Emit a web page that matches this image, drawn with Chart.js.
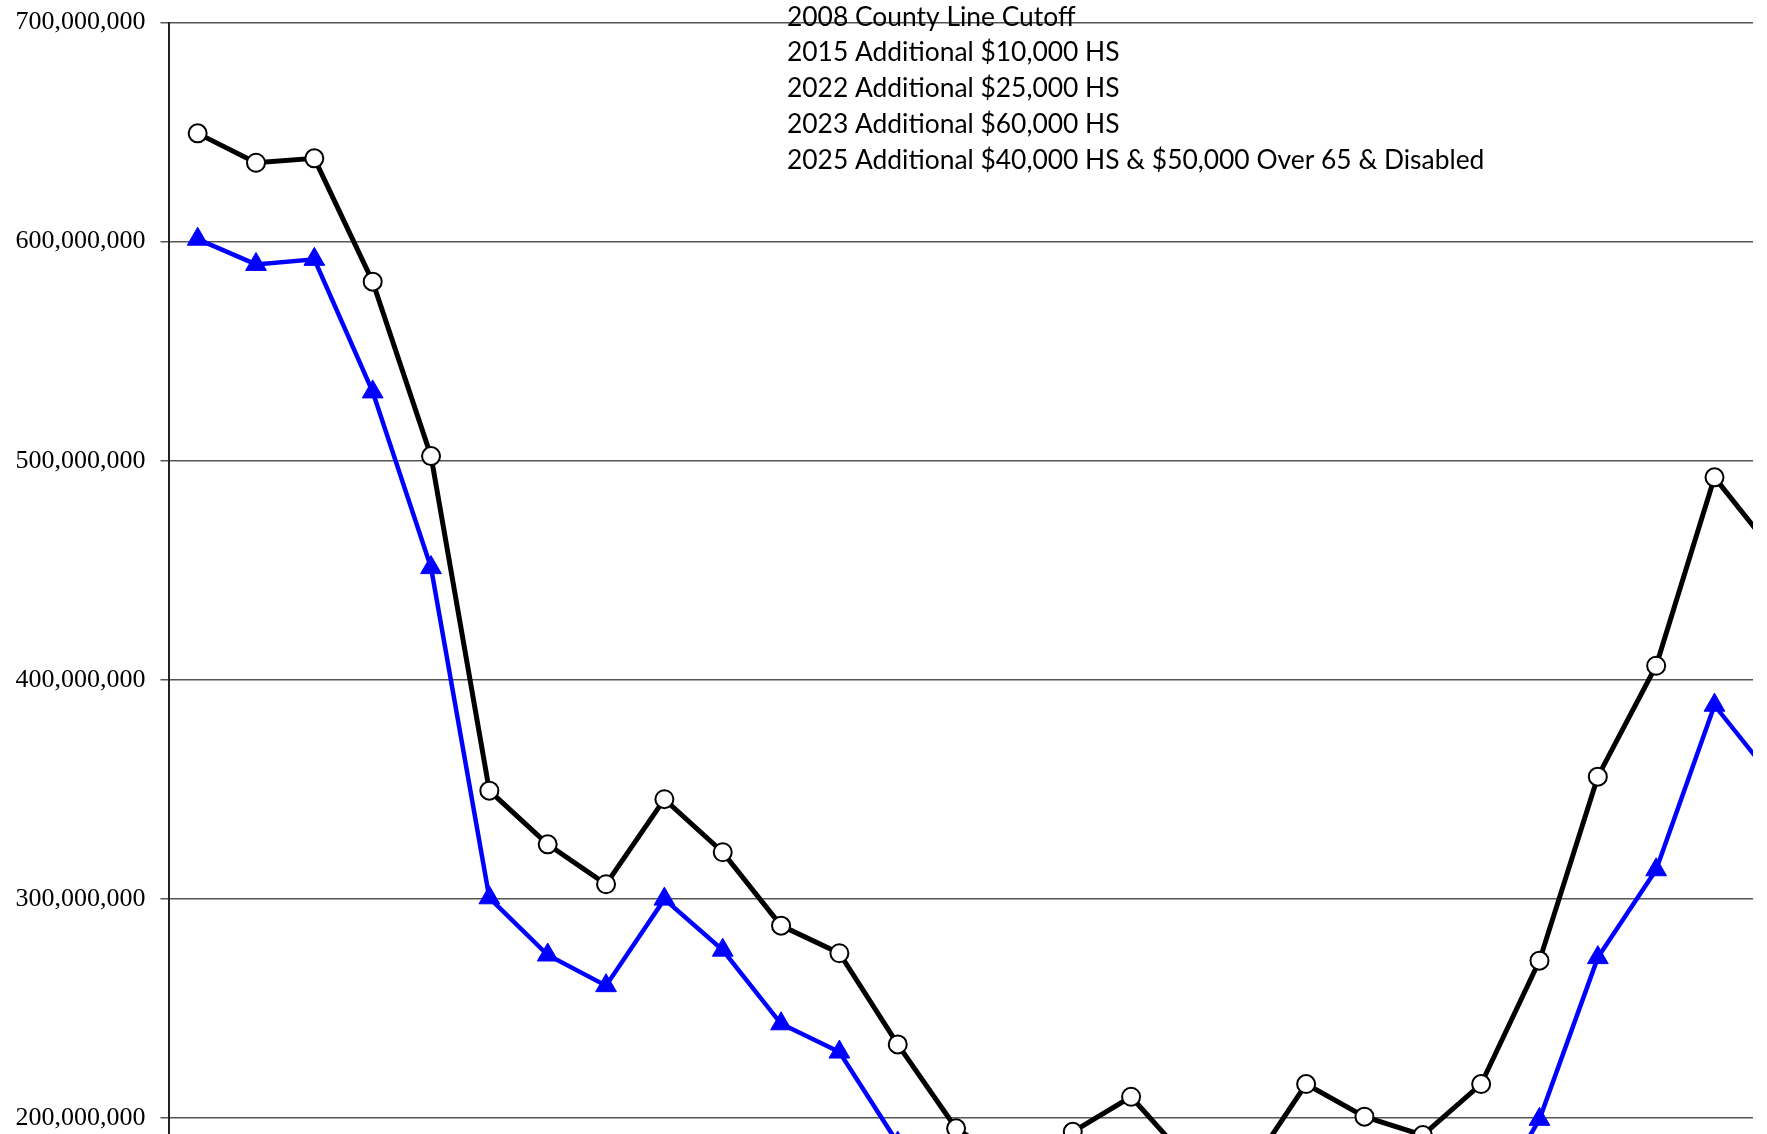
<!DOCTYPE html>
<html>
<head>
<meta charset="utf-8">
<script src="https://cdn.jsdelivr.net/npm/chart.js@4.4.1/dist/chart.umd.min.js"></script>
<style>
  html, body { margin: 0; padding: 0; background: #fff; overflow: hidden; }
  /* chart is taller than the window: the reference is a crop */
  #wrap { position: absolute; left: 0; top: 0; width: 1767px; height: 1580px; }
</style>
</head>
<body>
<div id="wrap"><canvas id="chart"></canvas></div>
<script>
// values in millions of dollars, one per year (index 27 sits just past the right edge)
const assessedValue = [649.4, 636, 638, 581.7, 502.1, 349.4, 324.9, 306.7, 345.5, 321.3,
  287.8, 275.2, 233.6, 195.3, 178, 193.7, 209.7, 180, 175.6, 215.5,
  200.6, 192.2, 215.5, 271.8, 355.8, 406.4, 492.4, 459];
const taxableValue = [601.1, 589.6, 591.9, 531.4, 451.2, 300.5, 274.4, 260.4, 299.9, 276.6,
  243, 230.1, 188.6, 146, 128, 143, 158, 130, 126, 160,
  146, 136, 154, 199.4, 273.2, 313.3, 388.4, 355];
const yTicks = [0, 100, 200, 300, 400, 500, 600, 700];
const notes = [
  '2008 County Line Cutoff',
  '2015 Additional $10,000 HS',
  '2022 Additional $25,000 HS',
  '2023 Additional $60,000 HS',
  '2025 Additional $40,000 HS & $50,000 Over 65 & Disabled',
];

const COLORS = {
  black: '#000000',
  blue: '#0000ff',
  grid: '#555555',
  axis: '#222222',
};

const toPoints = arr => arr.map((m, i) => ({ x: i, y: m * 1e6 }));
// clip only at the right edge of the plot
const CLIP = { left: false, top: false, right: 0, bottom: false };

// exemption notes drawn over the plot
const notesPlugin = {
  id: 'notes',
  afterDraw(chart) {
    const ctx = chart.ctx;
    ctx.save();
    ctx.font = '26.4px Lato, "Open Sans", sans-serif';
    ctx.fillStyle = '#000';
    ctx.textAlign = 'left';
    ctx.textBaseline = 'middle';
    notes.forEach((t, i) => ctx.fillText(t, 787, 17 + i * 35.8));
    ctx.restore();
  },
};

new Chart(document.getElementById('chart'), {
  type: 'line',
  data: {
    datasets: [
      {
        label: 'Assessed',
        data: toPoints(assessedValue),
        borderColor: COLORS.black,
        borderWidth: 5,
        pointStyle: 'circle',
        pointRadius: 9,
        pointBorderWidth: 2,
        pointBackgroundColor: '#fff',
        pointBorderColor: COLORS.black,
        clip: CLIP,
      },
      {
        label: 'Taxable',
        data: toPoints(taxableValue),
        borderColor: COLORS.blue,
        borderWidth: 4.5,
        pointStyle: 'triangle',
        pointRadius: 12,
        pointBorderWidth: 1,
        pointBackgroundColor: COLORS.blue,
        pointBorderColor: COLORS.blue,
        clip: CLIP,
      },
    ],
  },
  options: {
    responsive: true,
    maintainAspectRatio: false,
    animation: false,
    layout: { padding: { top: 22.5, left: 13.5, right: 14, bottom: 23.8 } },
    plugins: { legend: { display: false }, tooltip: { enabled: false } },
    scales: {
      x: { type: 'linear', min: -0.5, max: 26.66, display: false },
      y: {
        min: yTicks[0] * 1e6,
        max: yTicks[yTicks.length - 1] * 1e6,
        afterBuildTicks: s => { s.ticks = yTicks.map(v => ({ value: v * 1e6 })); },
        afterFit: s => { s.width = 155; s.paddingTop = 0; s.paddingBottom = 0; },
        grid: { color: COLORS.grid, lineWidth: 1.5, tickLength: 8 },
        border: { display: true, color: COLORS.axis, width: 2 },
        ticks: {
          padding: 15,
          color: '#000',
          font: { family: '"Liberation Serif", "Times New Roman", serif', size: 26 },
          callback: v => v.toLocaleString('en-US'),
        },
      },
    },
  },
  plugins: [notesPlugin],
});
</script>
</body>
</html>
